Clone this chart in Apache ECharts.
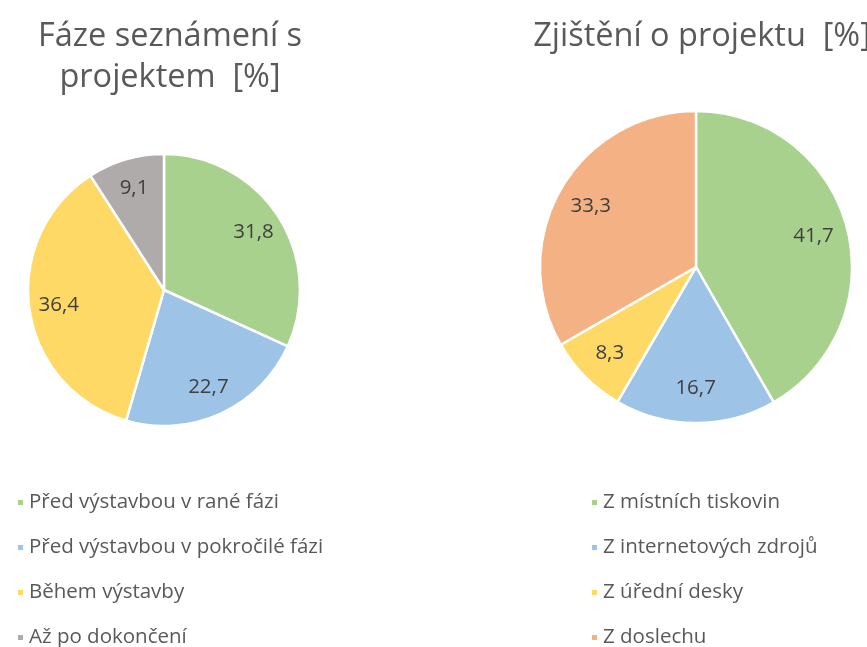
<!DOCTYPE html>
<html>
<head>
<meta charset="utf-8">
<script src="https://cdn.jsdelivr.net/npm/echarts@6/dist/echarts.min.js"></script>
<style>
html, body { margin: 0; padding: 0; background: #fff; }
#chart { width: 867px; height: 647px; }
</style>
</head>
<body>
<div id="chart"></div>
<script>
// levý graf
const leftTitle = 'Fáze seznámení s\nprojektem  [%]'
const leftNames = ['Před výstavbou v rané fázi', 'Před výstavbou v pokročilé fázi', 'Během výstavby', 'Až po dokončení']
const leftValues = [31.8, 22.7, 36.4, 9.1]
const leftColors = ['#A9D18E', '#9DC3E6', '#FFD966', '#AFABAB']

// pravý graf
const rightTitle = 'Zjištění o projektu  [%]'
const rightNames = ['Z místních tiskovin', 'Z internetových zdrojů', 'Z úřední desky', 'Z doslechu']
const rightValues = [41.7, 16.7, 8.3, 33.3]
const rightColors = ['#A9D18E', '#9DC3E6', '#FFD966', '#F4B183']

const font = '"Open Sans", Lato, sans-serif'

function toData(names, values, colors) {
    return names.map((n, i) => ({ name: n, value: values[i], itemStyle: { color: colors[i] } }))
}

// hlavní koláč + průhledný prstenec jen kvůli umístění popisků (~0.76 r)
function pieSeries(names, values, colors, center, r) {
    return [{
        type: 'pie',
        center: center,
        radius: [0, r],
        startAngle: 90,
        clockwise: true,
        silent: true,
        data: toData(names, values, colors),
        itemStyle: { borderColor: '#fff', borderWidth: 2.5 },
        label: { show: false },
        labelLine: { show: false }
    }, {
        type: 'pie',
        center: center,
        radius: [r * 0.52, r],
        startAngle: 90,
        silent: true,
        data: names.map((n, i) => ({ name: n, value: values[i], itemStyle: { color: 'rgba(0,0,0,0)' } })),
        label: {
            show: true,
            position: 'inside',
            formatter: p => String(p.value).replace('.', ','),
            color: '#404040',
            fontSize: 20.5,
            fontFamily: font
        },
        labelLine: { show: false }
    }]
}

const titleStyle = { color: '#595959', fontSize: 32.5, fontWeight: 'normal', fontFamily: font, lineHeight: 41 }
const legendText = { color: '#595959', fontSize: 20.5, lineHeight: 20, fontFamily: font }

function legendAt(names, left) {
    return {
        data: names,
        orient: 'vertical',
        left: left,
        top: 487,
        height: 160,
        icon: 'rect',
        itemWidth: 7,
        itemHeight: 7,
        itemGap: 24,
        selectedMode: false,
        textStyle: legendText
    }
}

const chart = echarts.init(document.getElementById('chart'))
chart.setOption({
    animation: false,
    title: [{
        text: leftTitle,
        left: 165,
        top: 11,
        textAlign: 'center',
        textStyle: titleStyle
    }, {
        text: rightTitle,
        left: 697,
        top: 11,
        textAlign: 'center',
        textStyle: titleStyle
    }],
    legend: [legendAt(leftNames, 11), legendAt(rightNames, 585)],
    series: [
        ...pieSeries(leftNames, leftValues, leftColors, [164, 290], 136),
        ...pieSeries(rightNames, rightValues, rightColors, [696, 267], 156)
    ]
})
</script>
</body>
</html>
